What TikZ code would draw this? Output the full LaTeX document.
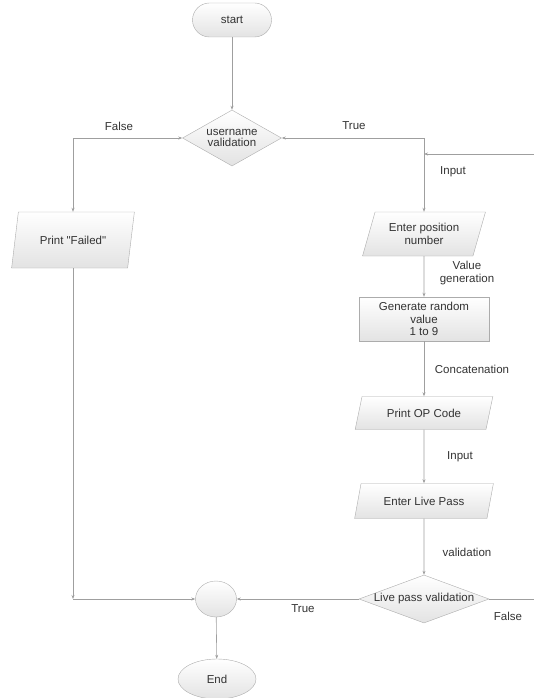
\documentclass[tikz,border=0pt]{standalone}
\usepackage{fontspec}
\setmainfont{Liberation Sans}[Ligatures=TeXOff]
\usetikzlibrary{positioning,calc}
\usetikzlibrary{shapes.geometric, arrows.meta}
\tikzset{
  st/.style={rectangle, rounded corners=17pt, minimum width=79pt, minimum height=34pt, text centered, draw=gray!65, top color=white, bottom color=gray!22},
  te/.style={ellipse, minimum width=78pt, minimum height=40pt, text centered, draw=gray!65, top color=white, bottom color=gray!22},
  io/.style={trapezium, trapezium left angle=68, trapezium right angle=112, trapezium stretches=true, inner sep=1pt, align=center, draw=gray!65, top color=white, bottom color=gray!22},
  op/.style={rectangle, minimum width=130pt, minimum height=44pt, inner sep=1pt, align=center, draw=gray!65, top color=white, bottom color=gray!22},
  cn/.style={diamond, inner sep=0pt, align=center, draw=gray!65, top color=white, bottom color=gray!22},
  jn/.style={ellipse, minimum width=41pt, minimum height=36pt, draw=gray!65, top color=white, bottom color=gray!22},
  ln/.style={draw=gray!75, line width=0.6pt},
  lb/.style={inner sep=0pt}
}

\begin{document}
\begin{tikzpicture}[x=1pt, y=-1pt, font=\fontsize{11.5}{12.5}\selectfont, text=black!80,
  >={Stealth[length=4pt,width=3pt]}]
	\useasboundingbox (0,0) rectangle (534,698);
	\node[st] (start) at (232,20) {start};
	\node[cn, minimum width=99pt, minimum height=56pt] (uv) at (232,138) {\makebox[0pt]{\shortstack{username\\validation}}};
	\node[io, minimum width=123pt, minimum height=56pt] (pf) at (73,240) {Print "Failed"};
	\node[io, minimum width=123pt, minimum height=44pt] (epn) at (424,234) {Enter position\\number};
	\node[op] (grv) at (424,319) {Generate random\\value\\1 to 9};
	\node[io, minimum width=138pt, minimum height=33pt] (poc) at (424,413) {Print OP Code};
	\node[io, minimum width=140pt, minimum height=35pt] (elp) at (424,501) {Enter Live Pass};
	\node[cn, minimum width=130pt, minimum height=48pt] (lpv) at (424,599) {\makebox[0pt]{Live pass validation}};
	\node[jn] (jc) at (216,599) {};
	\node[te] (end) at (217,679) {End};
	\coordinate (fr) at (534,154);
	\coordinate (fo) at (534,599);

	\draw[ln, ->] (start) -- (uv);
	\draw[ln, <->] (uv.west) -| (pf.north);
	\draw[ln, <->] (uv.east) -| (epn.north);
	\draw[ln, ->] (fr) -- (fr -| epn.north);
	\draw[ln, ->] (epn) -- (grv);
	\draw[ln, ->] (grv) -- (poc);
	\draw[ln, ->] (poc) -- (elp);
	\draw[ln, ->] (elp) -- (lpv);
	\draw[ln] (lpv.east) -- (fo);
	\draw[ln, ->] (lpv) -- (jc);
	\draw[ln, ->] (pf.south) -- (pf.south |- jc.west);
	\draw[ln, ->] (pf.south |- jc.west) -- (jc.west);
	\draw[ln, ->] (jc) -- (end);

	\node[lb] at (119,126) {False};
	\node[lb] at (354,126) {True};
	\node[lb] at (453,172) {Input};
	\node[lb, align=center] at (467,273) {Value\\generation};
	\node[lb] at (472,369) {Concatenation};
	\node[lb] at (460,457) {Input};
	\node[lb] at (467,552) {validation};
	\node[lb] at (303,609) {True};
	\node[lb] at (508,616) {False};
\end{tikzpicture}
\end{document}
